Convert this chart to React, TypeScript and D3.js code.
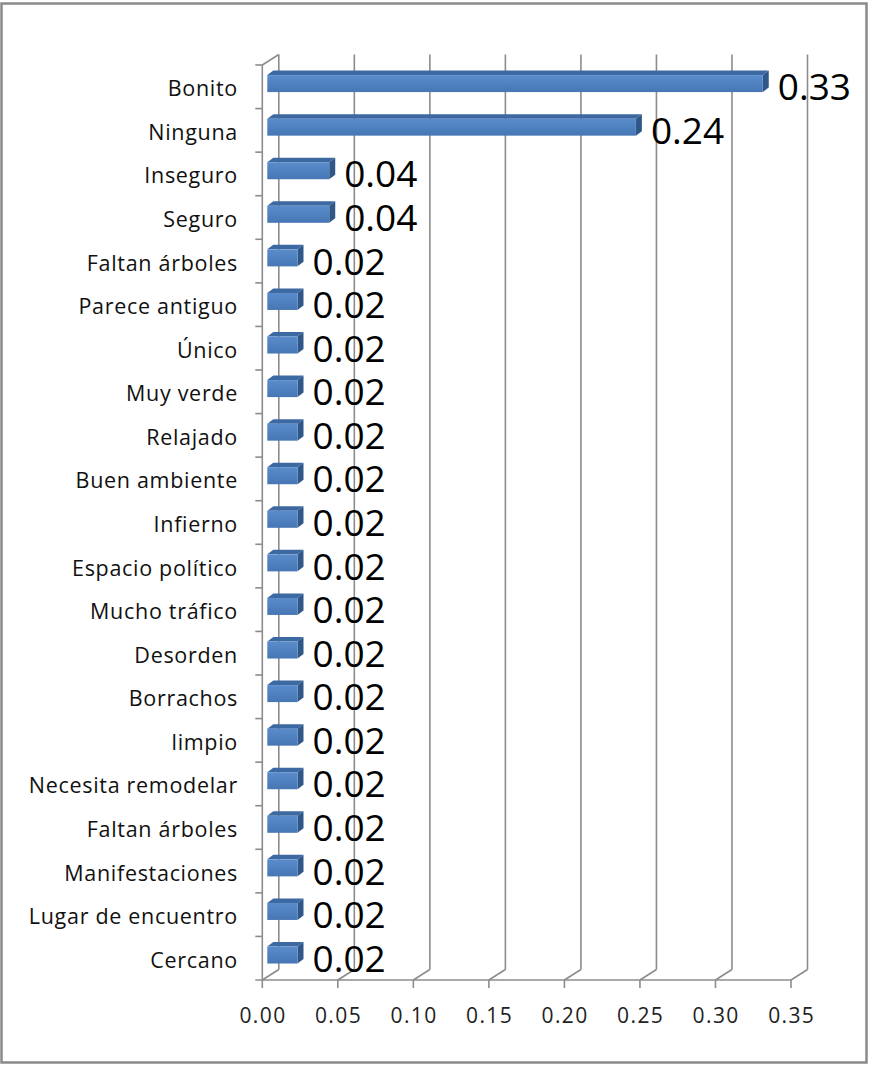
import React from 'react';
import * as d3 from 'd3';

const categories = [
  'Bonito', 'Ninguna', 'Inseguro', 'Seguro', 'Faltan árboles', 'Parece antiguo', 'Único',
  'Muy verde', 'Relajado', 'Buen ambiente', 'Infierno', 'Espacio político', 'Mucho tráfico',
  'Desorden', 'Borrachos', 'limpio', 'Necesita remodelar', 'Faltan árboles', 'Manifestaciones',
  'Lugar de encuentro', 'Cercano',
];
const values = [
  0.328, 0.244, 0.041, 0.041, 0.02, 0.02, 0.02, 0.02, 0.02, 0.02, 0.02,
  0.02, 0.02, 0.02, 0.02, 0.02, 0.02, 0.02, 0.02, 0.02, 0.02,
];
const xTicks = [0, 0.05, 0.1, 0.15, 0.2, 0.25, 0.3, 0.35];

const W = 869;
const H = 1066;
const FONT = "'Open Sans', sans-serif";
const GRID = '#8c8c8c';
// oblique depth of the plot box
const DX = 16.5;
const DY = -10.5;

const App: React.FC = () => {
  const x = d3.scaleLinear().domain([0, 0.35]).range([262.3, 791]);
  const y = d3.scaleBand<number>()
    .domain(categories.map((_, i) => i))
    .range([65, 980])
    .padding(0);
  const fmt = d3.format('.2f');

  const floorY = y.range()[1];
  const topY = y.range()[0];
  const x0 = x(0);

  // bar placement within the depth
  const barOffX = 5;
  const barOffY = -3.2;
  const barH = 17;
  const bdx = 6;
  const bdy = -4.5;

  return (
    <svg width={W} height={H} style={{ position: 'absolute', left: 0, top: 0, background: '#fff' }}>
      <defs>
        <linearGradient id="barFront" x1="0" y1="0" x2="0" y2="1">
          <stop offset="0%" stopColor="#5a8ccb" />
          <stop offset="100%" stopColor="#4676b4" />
        </linearGradient>
      </defs>
      <rect x={1.5} y={3.5} width={865} height={1059} fill="#fff" stroke="#8a8a8a" strokeWidth={2.5} />

      {/* back wall gridlines and floor diagonals */}
      {xTicks.map((t, i) => (
        <g key={'g' + i}>
          <line x1={x(t) + DX} y1={floorY + DY} x2={x(t) + DX} y2={topY + DY} stroke={GRID} strokeWidth={1.6} />
          <line x1={x(t)} y1={floorY} x2={x(t) + DX} y2={floorY + DY} stroke={GRID} strokeWidth={1.6} />
        </g>
      ))}

      {/* left wall */}
      <line x1={x0} y1={floorY} x2={x0} y2={topY} stroke={GRID} strokeWidth={1.6} />
      <line x1={x0} y1={topY} x2={x0 + DX} y2={topY + DY} stroke={GRID} strokeWidth={1.6} />
      {/* front floor edge / x axis */}
      <line x1={x0 - 7} y1={floorY} x2={x(0.35)} y2={floorY} stroke={GRID} strokeWidth={1.6} />
      {xTicks.map((t, i) => (
        <line key={'t' + i} x1={x(t)} y1={floorY} x2={x(t)} y2={floorY + 8} stroke={GRID} strokeWidth={1.6} />
      ))}
      {categories.map((_, i) => (
        <line key={'yt' + i} x1={x0 - 7} y1={y(i)!} x2={x0} y2={y(i)!} stroke={GRID} strokeWidth={1.6} />
      ))}

      {/* x tick labels */}
      {xTicks.map((t, i) => (
        <text key={'xl' + i} x={x(t) + 0.7} y={1015} textAnchor="middle" dominantBaseline="central"
          fontFamily={FONT} fontSize={21} letterSpacing={1.4} fill="#222">{fmt(t)}</text>
      ))}

      {/* category labels */}
      {categories.map((c, i) => (
        <text key={'c' + i} x={238} y={y(i)! + y.bandwidth() / 2 + 1} textAnchor="end" dominantBaseline="central"
          fontFamily={FONT} fontSize={21.5} letterSpacing={0.7} fill="#111">{c}</text>
      ))}

      {/* bars */}
      {values.map((v, i) => {
        const cy = y(i)! + y.bandwidth() / 2 + barOffY;
        const left = x0 + barOffX;
        const right = x(v) + barOffX;
        const top = cy - barH / 2;
        const bot = cy + barH / 2;
        return (
          <g key={'b' + i}>
            <polygon
              points={`${left},${top} ${left + bdx},${top + bdy} ${right + bdx},${top + bdy} ${right},${top}`}
              fill="#3c69a1" />
            <polygon
              points={`${right},${top} ${right + bdx},${top + bdy} ${right + bdx},${bot + bdy} ${right},${bot}`}
              fill="#2f5889" />
            <rect x={left} y={top} width={right - left} height={barH} fill="url(#barFront)" />
          </g>
        );
      })}

      {/* value labels */}
      {values.map((v, i) => (
        <text key={'v' + i} x={x(v) + barOffX + 15} y={y(i)! + y.bandwidth() / 2 - 1} dominantBaseline="central"
          fontFamily={FONT} fontSize={37} fill="#000">{fmt(v)}</text>
      ))}
    </svg>
  );
};

export default App;
